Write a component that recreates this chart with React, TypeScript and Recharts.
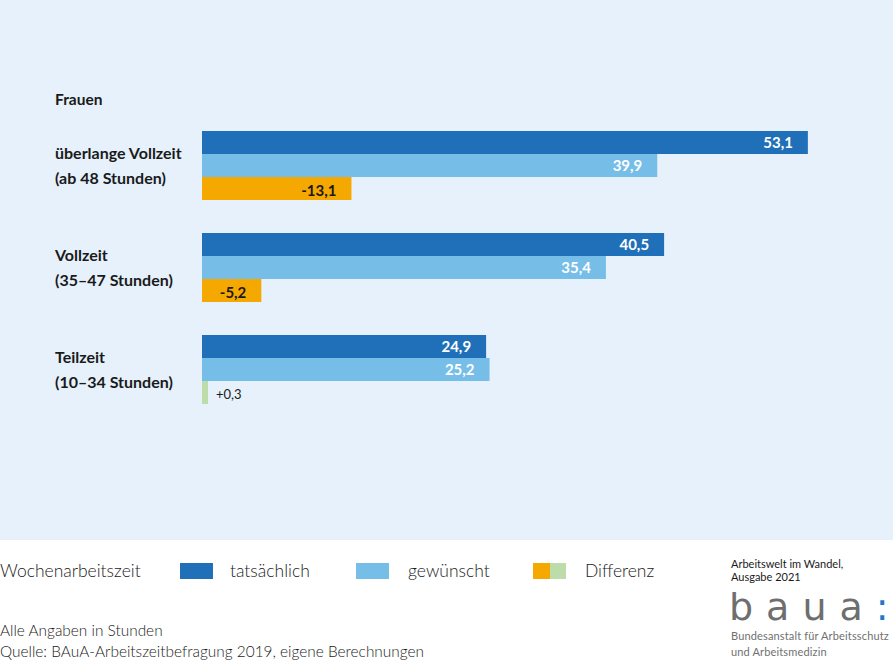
import React from 'react';
import { BarChart, Bar, XAxis, YAxis, Cell, LabelList } from 'recharts';

const groups = ['überlange Vollzeit', 'Vollzeit', 'Teilzeit'];
const groupRanges = ['(ab 48 Stunden)', '(35–47 Stunden)', '(10–34 Stunden)'];
const actual = [53.1, 40.5, 24.9];
const desired = [39.9, 35.4, 25.2];
const difference = [-13.1, -5.2, 0.3];

const legendItems = ['tatsächlich', 'gewünscht', 'Differenz'];

const DARK = '#1f70b8';
const LIGHT = '#76bde8';
const ORANGE = '#f5a800';
const GREEN = '#bcdca9';
const BG = '#e6f1fb';
const FONT = 'Lato, "Open Sans", sans-serif';

const fmt = (v: number) => v.toFixed(1).replace('.', ',');

const data = groups.map((g, i) => ({
  name: g,
  range: groupRanges[i],
  actual: actual[i],
  desired: desired[i],
  diff: difference[i],
  diffAbs: Math.abs(difference[i]),
}));

const CategoryTick = (props: any) => {
  const { y, payload } = props;
  const row = data.find(d => d.name === payload.value);
  return (
    <g>
      <text x={55} y={y - 13} dominantBaseline="central" fontSize={16} fontWeight="bold" fill="#1a1a1a" fontFamily={FONT}>
        {payload.value}
      </text>
      <text x={55} y={y + 12} dominantBaseline="central" fontSize={16} fontWeight="bold" fill="#1a1a1a" fontFamily={FONT}>
        {row ? row.range : ''}
      </text>
    </g>
  );
};

const DiffLabel = (props: any) => {
  const { x, y, width, height, value } = props;
  const big = Math.abs(value) >= 2;
  const txt = (value > 0 ? '+' : '') + fmt(value);
  return (
    <text
      x={big ? x + width - 15 : x + width + 8}
      y={y + height / 2 + 1}
      textAnchor={big ? 'end' : 'start'}
      dominantBaseline="central"
      fontSize={big ? 15 : 13}
      fontWeight={big ? 'bold' : 'normal'}
      fill="#1a1a1a"
      fontFamily={FONT}
    >
      {txt}
    </text>
  );
};

const Swatch = ({ colors }: { colors: string[] }) => (
  <span style={{ display: 'inline-flex', width: 33, height: 16 }}>
    {colors.map(c => (
      <span key={c} style={{ flex: 1, background: c }} />
    ))}
  </span>
);

export default function App() {
  return (
    <div style={{ position: 'absolute', left: 0, top: 0, width: 893, height: 663, background: '#fff', fontFamily: FONT, overflow: 'hidden' }}>
      <div style={{ position: 'absolute', left: 0, top: 0, width: 893, height: 540, background: BG }}>
        <div style={{ position: 'absolute', left: 55, top: 90, fontSize: 15.5, fontWeight: 'bold', color: '#1a1a1a' }}>Frauen</div>
        <BarChart
          width={893}
          height={540}
          layout="vertical"
          data={data}
          margin={{ top: 114.5, right: 6.4, left: 0, bottom: 119.5 }}
          barGap={0}
          barCategoryGap={16.5}
        >
          <XAxis type="number" domain={[0, 60]} hide />
          <YAxis type="category" dataKey="name" width={202} axisLine={false} tickLine={false} tick={<CategoryTick />} />
          <Bar dataKey="actual" fill={DARK} isAnimationActive={false}>
            <LabelList dataKey="actual" position="insideRight" offset={15} fill="#fff" fontSize={15} fontWeight="bold" fontFamily={FONT} formatter={(v: any) => fmt(Number(v))} />
          </Bar>
          <Bar dataKey="desired" fill={LIGHT} isAnimationActive={false}>
            <LabelList dataKey="desired" position="insideRight" offset={15} fill="#fff" fontSize={15} fontWeight="bold" fontFamily={FONT} formatter={(v: any) => fmt(Number(v))} />
          </Bar>
          <Bar dataKey="diffAbs" isAnimationActive={false} minPointSize={6}>
            {data.map((d, i) => (
              <Cell key={`diff-${i}`} fill={d.diff < 0 ? ORANGE : GREEN} />
            ))}
            <LabelList dataKey="diff" content={<DiffLabel />} />
          </Bar>
        </BarChart>
      </div>

      <div style={{ position: 'absolute', left: 0, top: 560, display: 'flex', alignItems: 'center', fontSize: 17.5, color: '#1a1a1a', fontWeight: 300, whiteSpace: 'nowrap' }}>
        <span style={{ width: 180 }}>Wochenarbeitszeit</span>
        <Swatch colors={[DARK]} />
        <span style={{ marginLeft: 17, width: 126 }}>{legendItems[0]}</span>
        <Swatch colors={[LIGHT]} />
        <span style={{ marginLeft: 19, width: 125 }}>{legendItems[1]}</span>
        <Swatch colors={[ORANGE, GREEN]} />
        <span style={{ marginLeft: 19 }}>{legendItems[2]}</span>
      </div>

      <div style={{ position: 'absolute', left: 0, top: 620, fontSize: 15.4, lineHeight: '21px', color: '#1a1a1a', fontWeight: 300, whiteSpace: 'nowrap' }}>
        <div>Alle Angaben in Stunden</div>
        <div>Quelle: BAuA-Arbeitszeitbefragung 2019, eigene Berechnungen</div>
      </div>

      <div style={{ position: 'absolute', left: 731, top: 557, fontSize: 11, lineHeight: '13px', color: '#1a1a1a', whiteSpace: 'nowrap' }}>
        <div>Arbeitswelt im Wandel,</div>
        <div>Ausgabe 2021</div>
      </div>
      <div style={{ position: 'absolute', left: 729, top: 586, fontSize: 38, lineHeight: '42px', color: '#6e6e6e', fontFamily: '"DejaVu Sans", sans-serif', letterSpacing: 13, whiteSpace: 'nowrap' }}>
        baua<span style={{ color: '#1f78c8', letterSpacing: 0 }}>:</span>
      </div>
      <div style={{ position: 'absolute', left: 731, top: 628, fontSize: 11, lineHeight: '16px', color: '#707070', letterSpacing: 0.15, whiteSpace: 'nowrap' }}>
        <div>Bundesanstalt für Arbeitsschutz</div>
        <div>und Arbeitsmedizin</div>
      </div>
    </div>
  );
}
